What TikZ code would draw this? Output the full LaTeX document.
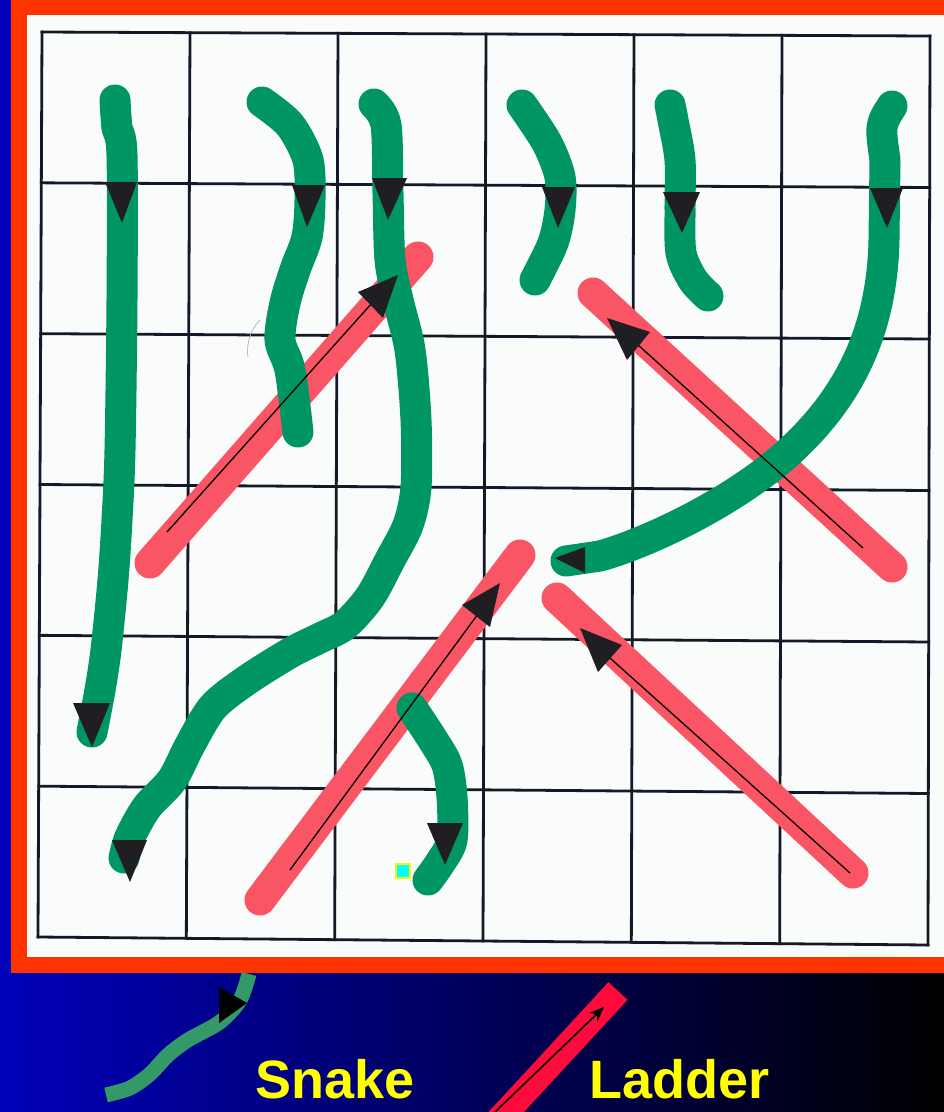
\documentclass[tikz,border=0pt]{standalone}
\usepackage{fontspec}
\setmainfont{Liberation Sans}
\usetikzlibrary{calc,arrows.meta}
\definecolor{framec}{RGB}{255,51,0}
\definecolor{paper}{RGB}{249,252,250}
\definecolor{gridc}{RGB}{20,25,40}
\definecolor{snakeg}{RGB}{0,150,100}
\definecolor{ladr}{RGB}{250,85,100}
\definecolor{legg}{RGB}{51,153,102}
\definecolor{legr}{RGB}{255,10,60}
\definecolor{headc}{RGB}{30,30,35}
\definecolor{txty}{RGB}{255,255,0}
\definecolor{bgl}{RGB}{0,0,185}
\definecolor{markc}{RGB}{0,255,255}
\tikzset{
  snakebody/.style={draw=snakeg,line width=31pt,line cap=round,line join=round},
  ladderbar/.style={draw=ladr,line width=31pt,line cap=round},
  rungline/.style={draw=black,line width=1.3pt},
  headtri/.style={fill=headc},
  legtext/.style={text=txty,font=\bfseries\fontsize{54}{60}\selectfont,inner sep=0pt,anchor=base west},
  gridline/.style={draw=gridc,line width=2.8pt,line cap=rect},
}
\begin{document}
\begin{tikzpicture}[x=1pt,y=-1pt]
\useasboundingbox (0,0) rectangle (944,1112);
\clip (0,0) rectangle (944,1112);
% background
\shade[left color=bgl,right color=black] (0,0) rectangle (944,1112);
\fill[framec] (11,0) rectangle (944,973);
\fill[paper] (27,15) rectangle (944,957);
% grid
\coordinate (TL) at (42,32); \coordinate (TR) at (930,36);
\coordinate (BL) at (38,937); \coordinate (BR) at (928,945);
\foreach \i in {0,...,6}{
  \draw[gridline] ($(TL)!\i/6!(BL)$) -- ($(TR)!\i/6!(BR)$);
  \draw[gridline] ($(TL)!\i/6!(TR)$) -- ($(BL)!\i/6!(BR)$);
}
% stray pencil mark
\draw[gray!70,line width=0.6pt] (260,320) .. controls (250,330) and (246,345) .. (248,357);
% ladders (bars)
\draw[ladderbar] (150,563) -- (418,257);
\draw[ladderbar] (593,293) -- (892,567);
\draw[ladderbar] (260,900) -- (520,555);
\draw[ladderbar] (557,598) -- (853,873);
% snakes
\draw[snakebody] plot[smooth] coordinates {(115,100) (117,128) (122,155) (122,300) (120,450) (117,520) (113,580) (106,650) (100,690) (92,732)};
\draw[snakebody] plot[smooth] coordinates {(262,102) (290,125) (308,160) (310,200) (307,237) (295,270) (285,303) (280,340) (290,370) (298,432)};
\draw[snakebody] plot[smooth] coordinates {(374,104) (386,125) (388,193) (390,260) (398,300) (410,350) (416,420) (416,487) (408,525) (390,560) (370,597) (345,625) (320,638) (290,653) (247,680) (213,707) (190,745) (172,780) (147,807) (130,837) (124,858)};
\draw[snakebody] plot[smooth] coordinates {(522,105) (547,143) (560,177) (560,210) (553,243) (535,280)};
\draw[snakebody] plot[smooth] coordinates {(670,105) (673,120) (680,160) (680,210) (681,253) (693,280) (708,296)};
\draw[snakebody] (892,106) .. controls (880,125) .. (885,160) -- (884,240)
  .. controls (882,330) and (850,400) .. (780,460)
  .. controls (720,510) and (640,545) .. (600,556)
  -- (566,561);
\draw[snakebody] plot[smooth] coordinates {(412,708) (433,740) (447,765) (452,797) (452,840) (440,863) (428,880)};
% snake heads
\fill[headtri] (105,182) -- (137,182) -- (122,223) -- cycle;
\fill[headtri] (73,703) -- (110,703) -- (92,747) -- cycle;
\fill[headtri] (292,185) -- (325,185) -- (307,227) -- cycle;
\fill[headtri] (372,178) -- (407,178) -- (388,220) -- cycle;
\fill[headtri] (112,840) -- (147,840) -- (130,882) -- cycle;
\fill[headtri] (542,187) -- (575,187) -- (558,228) -- cycle;
\fill[headtri] (663,192) -- (700,192) -- (682,233) -- cycle;
\fill[headtri] (870,188) -- (903,188) -- (887,228) -- cycle;
\fill[headtri] (555,558) -- (585,547) -- (585,573) -- cycle;
\fill[headtri] (427,823) -- (463,823) -- (445,865) -- cycle;
% ladder arrows
\draw[rungline] (167,532) -- (372,303);
\fill[headtri] (398,275) -- (358,292) -- (383,318) -- cycle;
\draw[rungline] (863,548) -- (637,344);
\fill[headtri] (607,318) -- (650,332) -- (627,360) -- cycle;
\draw[rungline] (290,870) -- (478,614);
\fill[headtri] (500,583) -- (462,605) -- (490,627) -- cycle;
\draw[rungline] (850,873) -- (610,658);
\fill[headtri] (580,628) -- (622,645) -- (598,672) -- cycle;
% small marker square
\draw[draw=yellow,fill=markc,line width=2pt] (396,864) rectangle (410,878);
% legend
\draw[legg,line width=15pt] plot[smooth] coordinates {(249,974) (240,1000) (220,1022) (188,1040) (168,1055) (150,1074) (130,1088) (106,1095)};
\fill[black] (219,987) -- (247,1003) -- (219,1023) -- cycle;
\draw[legr,line width=26pt] (497,1122) -- (618,991);
\draw[black,line width=1.6pt,-{Stealth[length=15pt,width=12pt]}] (493,1114) -- (604,1007);
\node[legtext] (snake) at (255,1098) {Snake};
\node[legtext] (ladder) at (589,1098) {Ladder};
\end{tikzpicture}
\end{document}
